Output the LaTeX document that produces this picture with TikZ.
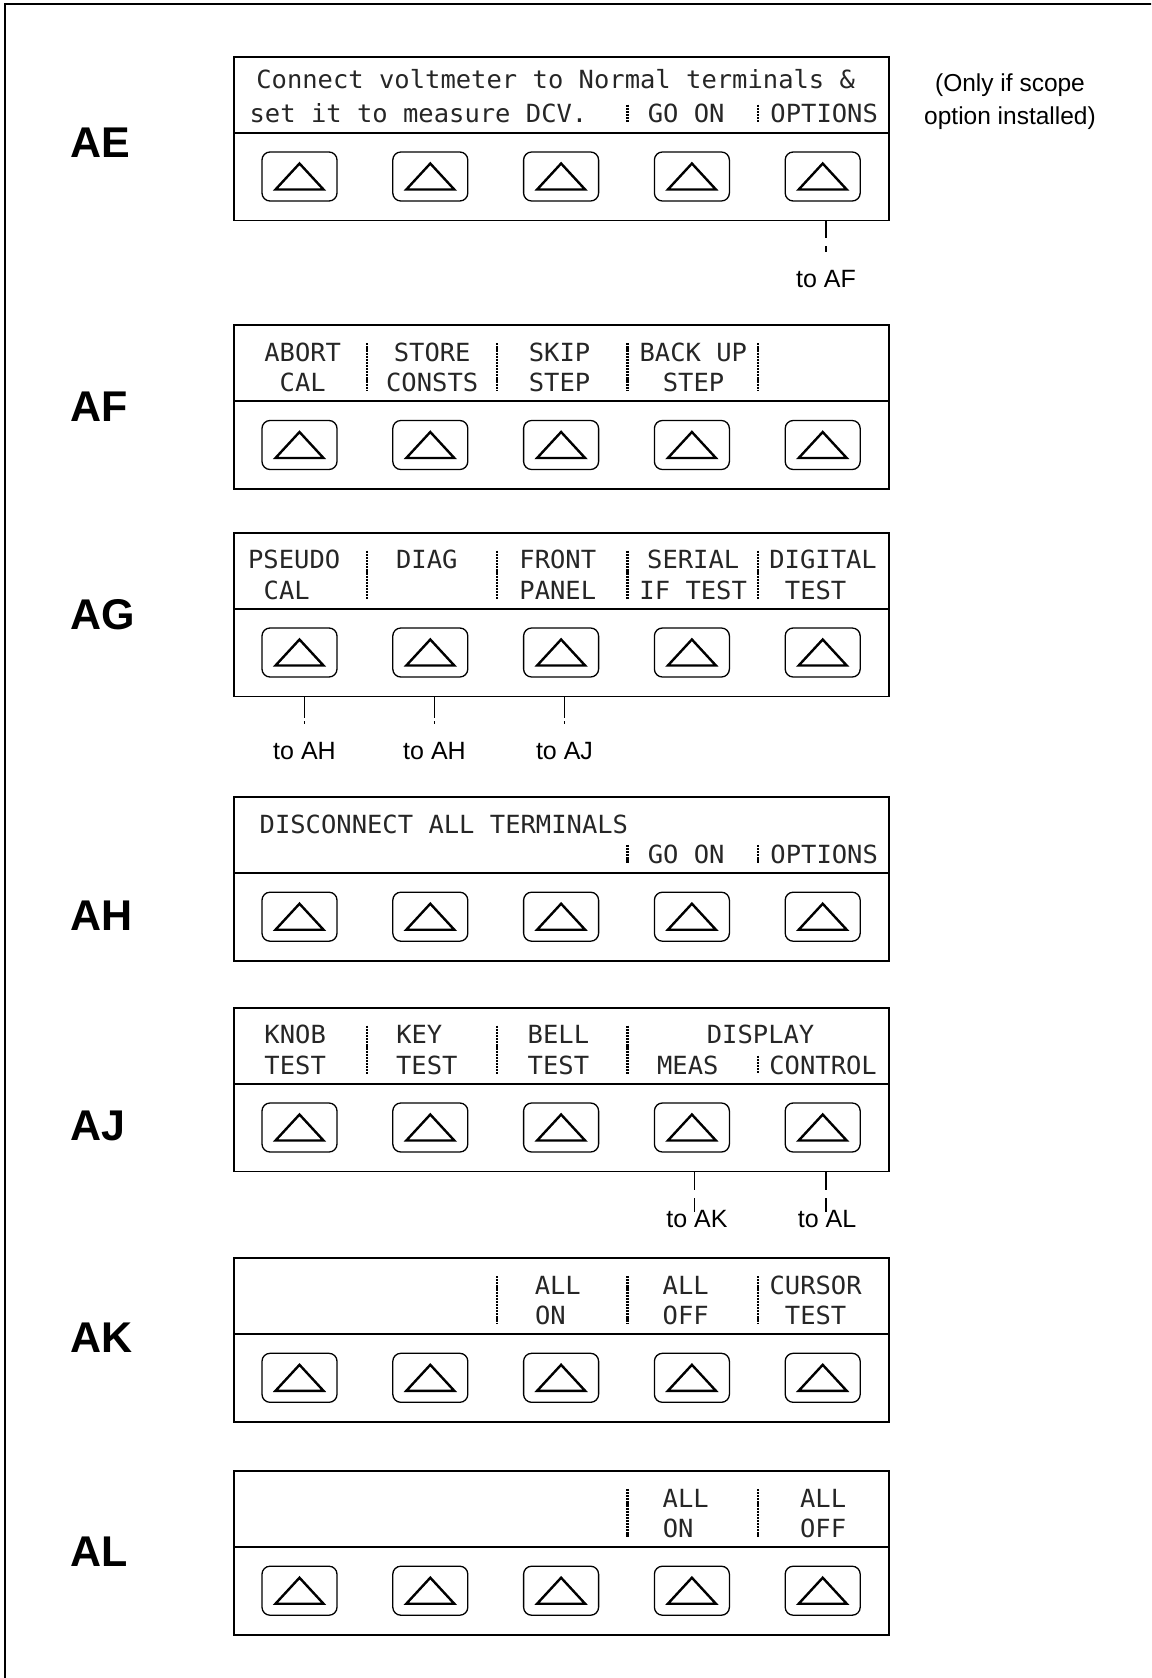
\documentclass[tikz,border=0pt]{standalone}
\usepackage{fontspec}
\setmainfont{Liberation Sans}
\newfontfamily\lcdfont[FakeStretch=1.02]{DejaVu Sans Mono}
\tikzset{
 frame/.style={draw, line width=1.6pt},
 panel/.style={draw, line width=1.8pt, minimum width=654.6pt, minimum height=163.7pt, inner sep=0pt, outer sep=0pt, anchor=north west},
 sepline/.style={line width=1.8pt},
 btn/.style={draw, line width=1.3pt, rounded corners=8pt, minimum width=75pt, minimum height=49pt, inner sep=0pt, outer sep=0pt},
 tri/.style={line width=2.4pt, line join=miter},
 lcd/.style={font=\lcdfont\fontsize{25}{30}\selectfont, inner sep=0pt, anchor=base, text=black!85},
 lcdbar/.style={line width=2.8pt, dash pattern=on 2.2pt off 0.9pt, draw=black},
 tag/.style={font=\bfseries\fontsize{43}{50}\selectfont, inner sep=0pt, anchor=base west},
 tolabel/.style={font=\fontsize{25}{30}\selectfont, inner sep=0pt, anchor=base},
 note/.style={font=\fontsize{24.5}{30}\selectfont, inner sep=0pt, anchor=base},
 connA/.style={line width=1.3pt, dash pattern=on 18pt off 8pt on 6pt off 300pt},
 connG/.style={line width=1.3pt, dash pattern=on 22pt off 3pt on 3pt off 300pt},
 connJ/.style={line width=1.3pt, dash pattern=on 18.6pt off 8pt on 14pt off 300pt},
}
\newcommand\lcdpanel[2]{%
 \node[panel] (#1) at (234.3,#2) {};
 \draw[sepline] ([yshift=-76pt]#1.north west) -- ([yshift=-76pt]#1.north east);
 \foreach \k in {1,...,5} {
   \node[btn] (#1-\k) at ({299.5+130.8*(\k-1)},{#2+119.8}) {};
   \draw[tri] ([shift={(-24,13)}]#1-\k.center) -- ([shift={(24,13)}]#1-\k.center) -- ([shift={(0,-13)}]#1-\k.center) -- cycle;
 }
}
\newcommand\bartwo[2]{\draw[lcdbar] ({#1},{#2+18}) -- ({#1},{#2+66});}
\newcommand\barone[2]{\draw[lcdbar] ({#1},{#2+48}) -- ({#1},{#2+66});}
\def\Lone{36.1}
\def\Ltwo{66.6}
\begin{document}
\begin{tikzpicture}[x=1pt,y=-1pt]
\useasboundingbox (0,0) rectangle (1151,1678);
\clip (0,0) rectangle (1151,1678);
\draw[frame] (5,4) rectangle (1175,1700);

% ---------- AE ----------
\def\T{56.7}
\lcdpanel{ae}{\T}
\node[tag] (tagae) at (70.6,157.6) {AE};
\node[lcd] (ae-t1) at ({555.7},{\T+32.1}) {Connect voltmeter to Normal terminals \&};
\node[lcd] (ae-t2) at ({418.5},{\T+66.1}) {set it to measure DCV.};
\node[lcd] (ae-t3) at ({686.2},{\T+66.1}) {GO ON};
\node[lcd] (ae-t4) at ({824.2},{\T+66.1}) {OPTIONS};
\barone{627.5}{\T}
\barone{758}{\T}
\node[note] (note1) at (1010,91) {(Only if scope};
\node[note] (note2) at (1010,124) {option installed)};
\node[tolabel] (toaf) at (826,287) {to AF};
\draw[connA] (toaf.north |- ae.south) -- ([yshift=17pt]toaf.north);

% ---------- AF ----------
\def\T{325.2}
\lcdpanel{af}{\T}
\node[tag] (tagaf) at (70.6,421.9) {AF};
\node[lcd] (af-a1) at ({302.7},{\T+\Lone}) {ABORT};
\node[lcd] (af-a2) at ({302.7},{\T+\Ltwo}) {CAL};
\node[lcd] (af-b1) at ({432.2},{\T+\Lone}) {STORE};
\node[lcd] (af-b2) at ({432.2},{\T+\Ltwo}) {CONSTS};
\node[lcd] (af-c1) at ({559.5},{\T+\Lone}) {SKIP};
\node[lcd] (af-c2) at ({559.5},{\T+\Ltwo}) {STEP};
\node[lcd] (af-d1) at ({693.3},{\T+\Lone}) {BACK UP};
\node[lcd] (af-d2) at ({693.5},{\T+\Ltwo}) {STEP};
\bartwo{367}{\T}
\bartwo{497}{\T}
\bartwo{627.5}{\T}
\bartwo{758}{\T}

% ---------- AG ----------
\def\T{532.7}
\lcdpanel{ag}{\T}
\node[tag] (tagag) at (70.6,629.4) {AG};
\node[lcd] (ag-a1) at ({294.2},{\T+\Lone}) {PSEUDO};
\node[lcd] (ag-a2) at ({286.7},{\T+\Ltwo}) {CAL};
\node[lcd] (ag-b1) at ({426.8},{\T+\Lone}) {DIAG};
\node[lcd] (ag-c1) at ({557.8},{\T+\Lone}) {FRONT};
\node[lcd] (ag-c2) at ({557.8},{\T+\Ltwo}) {PANEL};
\node[lcd] (ag-d1) at ({693.2},{\T+\Lone}) {SERIAL};
\node[lcd] (ag-d2) at ({693.2},{\T+\Ltwo}) {IF TEST};
\node[lcd] (ag-e1) at ({823.1},{\T+\Lone}) {DIGITAL};
\node[lcd] (ag-e2) at ({815.6},{\T+\Ltwo}) {TEST};
\bartwo{367}{\T}
\bartwo{497}{\T}
\bartwo{627.5}{\T}
\bartwo{758}{\T}
\node[tolabel] (toah1) at (304.5,759) {to AH};
\node[tolabel] (toah2) at (434.5,759) {to AH};
\node[tolabel] (toaj) at (564.5,759) {to AJ};
\draw[connG] (toah1.north |- ag.south) -- ([yshift=14pt]toah1.north);
\draw[connG] (toah2.north |- ag.south) -- ([yshift=14pt]toah2.north);
\draw[connG] (toaj.north |- ag.south) -- ([yshift=14pt]toaj.north);

% ---------- AH ----------
\def\T{796.9}
\lcdpanel{ah}{\T}
\node[tag] (tagah) at (70.6,930) {AH};
\node[lcd] (ah-t1) at ({443.9},{\T+37}) {DISCONNECT ALL TERMINALS};
\node[lcd] (ah-t2) at ({686.2},{\T+\Ltwo}) {GO ON};
\node[lcd] (ah-t3) at ({824.2},{\T+\Ltwo}) {OPTIONS};
\barone{627.5}{\T}
\barone{758}{\T}

% ---------- AJ ----------
\def\T{1007.7}
\lcdpanel{aj}{\T}
\node[tag] (tagaj) at (70.6,1140.7) {AJ};
\node[lcd] (aj-a1) at ({295.2},{\T+\Lone}) {KNOB};
\node[lcd] (aj-a2) at ({295.2},{\T+\Ltwo}) {TEST};
\node[lcd] (aj-b1) at ({419.3},{\T+\Lone}) {KEY};
\node[lcd] (aj-b2) at ({426.8},{\T+\Ltwo}) {TEST};
\node[lcd] (aj-c1) at ({558.4},{\T+\Lone}) {BELL};
\node[lcd] (aj-c2) at ({558.4},{\T+\Ltwo}) {TEST};
\node[lcd] (aj-d1) at ({760.6},{\T+\Lone}) {DISPLAY};
\node[lcd] (aj-d2) at ({687.8},{\T+\Ltwo}) {MEAS};
\node[lcd] (aj-e2) at ({823.1},{\T+\Ltwo}) {CONTROL};
\bartwo{367}{\T}
\bartwo{497}{\T}
\bartwo{627.5}{\T}
\barone{758}{\T}
\node[tolabel] (toak) at (697,1227) {to AK};
\node[tolabel] (toal) at (827,1227) {to AL};
\coordinate (akx) at ([xshift=28.5pt]toak.north west);
\coordinate (alx) at ([xshift=28.5pt]toal.north west);
\draw[connJ] (akx |- aj.south) -- ([yshift=-3pt]akx);
\draw[connJ] (alx |- aj.south) -- ([yshift=-3pt]alx);

% ---------- AK ----------
\def\T{1258.0}
\lcdpanel{ak}{\T}
\node[tag] (tagak) at (70.6,1352.5) {AK};
\node[lcd] (ak-a1) at ({557.8},{\T+\Lone}) {ALL};
\node[lcd] (ak-a2) at ({550.4},{\T+\Ltwo}) {ON};
\node[lcd] (ak-b1) at ({685.7},{\T+\Lone}) {ALL};
\node[lcd] (ak-b2) at ({685.7},{\T+\Ltwo}) {OFF};
\node[lcd] (ak-c1) at ({815.6},{\T+\Lone}) {CURSOR};
\node[lcd] (ak-c2) at ({815.6},{\T+\Ltwo}) {TEST};
\bartwo{497}{\T}
\bartwo{627.5}{\T}
\bartwo{758}{\T}

% ---------- AL ----------
\def\T{1470.9}
\lcdpanel{al}{\T}
\node[tag] (tagal) at (70.6,1566.5) {AL};
\node[lcd] (al-a1) at ({685.7},{\T+\Lone}) {ALL};
\node[lcd] (al-a2) at ({678.2},{\T+\Ltwo}) {ON};
\node[lcd] (al-b1) at ({823.1},{\T+\Lone}) {ALL};
\node[lcd] (al-b2) at ({823.1},{\T+\Ltwo}) {OFF};
\bartwo{627.5}{\T}
\bartwo{758}{\T}
\end{tikzpicture}
\end{document}
